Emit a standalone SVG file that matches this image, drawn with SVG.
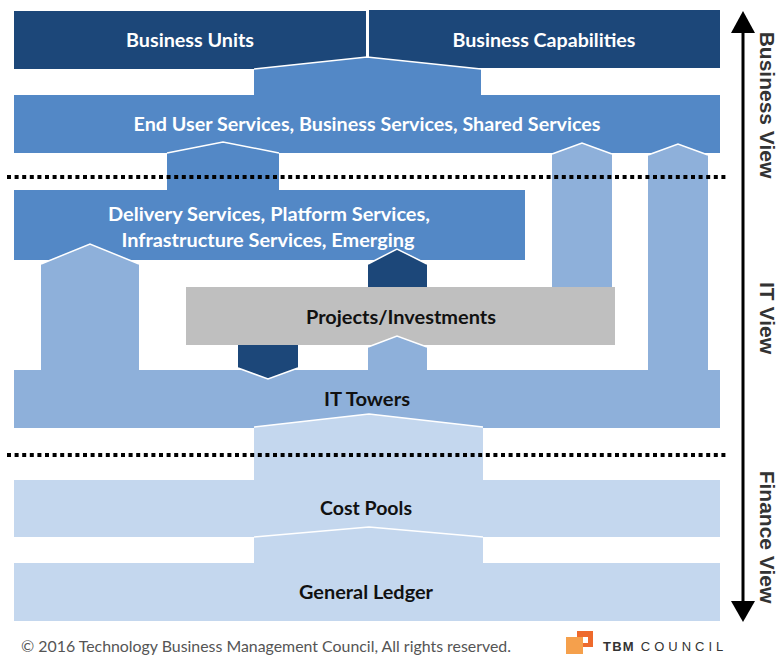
<svg xmlns="http://www.w3.org/2000/svg" width="780" height="656" viewBox="0 0 780 656">
<style>
.dark{fill:#1c4779}
.mid{fill:#5388c6}
.light{fill:#8eb0da}
.lighter{fill:#c4d7ee}
.gray{fill:#bfbfbf}
.edge{fill:none;stroke:#ffffff;stroke-width:1.5}
.lbl{font-family:Lato,"Open Sans",sans-serif;font-weight:bold;font-size:19px;text-anchor:middle}
.w{fill:#ffffff}
.b{fill:#111111}
.view{font-family:"Liberation Sans",Arial,sans-serif;font-weight:bold;font-size:21px;fill:#333333;text-anchor:middle;dominant-baseline:central}
.dots{stroke:#000000;stroke-width:4;stroke-dasharray:4 3.6;fill:none}
</style>
<rect width="780" height="656" fill="#ffffff"/>

<g id="business-units"><rect class="dark" x="14" y="11" width="352" height="58"/><text class="lbl w" x="190" y="47" textLength="128" lengthAdjust="spacingAndGlyphs">Business Units</text></g>
<g id="business-capabilities"><rect class="dark" x="369" y="10" width="351" height="58"/><text class="lbl w" x="544" y="47" textLength="183" lengthAdjust="spacingAndGlyphs">Business Capabilities</text></g>
<g id="end-user-services"><rect class="mid" x="14" y="95" width="706" height="58"/></g>
<g id="delivery-services"><rect class="mid" x="14" y="190" width="511" height="70"/></g>
<g id="projects"><rect class="gray" x="186" y="287" width="429" height="58"/></g>
<g id="it-towers"><rect class="light" x="14" y="370" width="706" height="58"/></g>
<g id="cost-pools"><rect class="lighter" x="14" y="480" width="706" height="57"/></g>
<g id="general-ledger"><rect class="lighter" x="14" y="563" width="706" height="58"/></g>

<g id="connectors">
  <polygon class="mid" points="254,69 367,57 481,69 481,96 254,96"/>
  <polyline class="edge" points="254,69 367,57 481,69"/>
  <polygon class="mid" points="167,153 223,142 279,153 279,191 167,191"/>
  <polyline class="edge" points="167,153 223,142 279,153"/>
  <polygon class="light" points="552,154 582,143 612,154 612,287 552,287"/>
  <polyline class="edge" points="552,154 582,143 612,154"/>
  <polygon class="light" points="648,155 678,144 708,155 708,371 648,371"/>
  <polyline class="edge" points="648,155 678,144 708,155"/>
  <polygon class="light" points="41,264 90,244 139,264 139,371 41,371"/>
  <polyline class="edge" points="41,264 90,244 139,264"/>
  <polygon class="dark" points="368,264 397,249 427,264 427,287 368,287"/>
  <polyline class="edge" points="368,264 397,249 427,264"/>
  <polygon class="dark" points="238,345 298,345 298,368 268,379 238,368"/>
  <polyline class="edge" points="238,368 268,379 298,368"/>
  <polygon class="light" points="368,347 397,336 427,347 427,371 368,371"/>
  <polyline class="edge" points="368,347 397,336 427,347"/>
  <polygon class="lighter" points="254,427 369,414 483,427 483,481 254,481"/>
  <polyline class="edge" points="254,427 369,414 483,427"/>
  <polygon class="lighter" points="254,537 369,527 483,537 483,564 254,564"/>
  <polyline class="edge" points="254,537 369,527 483,537"/>
  <line class="dots" x1="7" y1="177" x2="726" y2="177"/>
  <line class="dots" x1="7" y1="455" x2="726" y2="455"/>
  <line x1="743" y1="30" x2="743" y2="605" stroke="#000000" stroke-width="3"/>
  <polygon points="743,11 755,33 731,33" fill="#000000"/>
  <polygon points="743,622 755,601 731,601" fill="#000000"/>
</g>

<g id="labels">
  <text class="lbl w" x="367" y="131" textLength="467" lengthAdjust="spacingAndGlyphs">End User Services, Business Services, Shared Services</text>
  <text class="lbl w" x="269" y="221" textLength="322" lengthAdjust="spacingAndGlyphs">Delivery Services, Platform Services,</text>
  <text class="lbl w" x="268" y="247" textLength="293" lengthAdjust="spacingAndGlyphs">Infrastructure Services, Emerging</text>
  <text class="lbl b" x="401" y="324" textLength="190" lengthAdjust="spacingAndGlyphs">Projects/Investments</text>
  <text class="lbl b" x="367" y="406" textLength="86" lengthAdjust="spacingAndGlyphs">IT Towers</text>
  <text class="lbl b" x="366" y="515" textLength="92" lengthAdjust="spacingAndGlyphs">Cost Pools</text>
  <text class="lbl b" x="366" y="599" textLength="134" lengthAdjust="spacingAndGlyphs">General Ledger</text>
  <text class="view" transform="translate(767,105) rotate(90)">Business View</text>
  <text class="view" transform="translate(767,318) rotate(90)">IT View</text>
  <text class="view" transform="translate(767,537) rotate(90)">Finance View</text>
</g>

<g id="footer">
  <text x="21" y="652" font-family="Lato,'Open Sans',sans-serif" font-size="16" fill="#555555" textLength="490" lengthAdjust="spacingAndGlyphs">© 2016 Technology Business Management Council, All rights reserved.</text>
  <rect x="577" y="631" width="16" height="16" fill="#ee6a2c"/>
  <rect x="583" y="637" width="5" height="6" fill="#ffffff"/>
  <rect x="566" y="637" width="17" height="17" fill="#f5a04c"/>
  <text x="603" y="651" font-family="'Liberation Sans',Arial,sans-serif" font-size="13" fill="#333333"><tspan font-weight="bold" letter-spacing="1.2">TBM</tspan><tspan dx="6" letter-spacing="4">COUNCIL</tspan></text>
</g>
</svg>
